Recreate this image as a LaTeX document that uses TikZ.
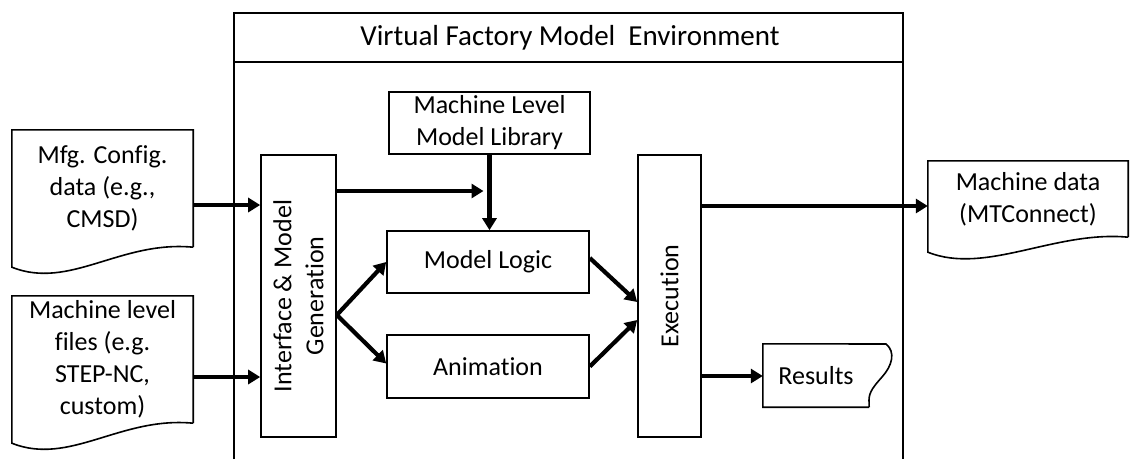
\documentclass[tikz,border=0pt]{standalone}
\usepackage{fontspec}
\setmainfont{Carlito}[Ligatures={NoCommon}]
\usetikzlibrary{arrows.meta,calc}
\newcommand{\bodyfont}{\fontsize{26pt}{32pt}\selectfont}
\newcommand{\titlefont}{\fontsize{29pt}{34pt}\selectfont}
\tikzset{
  frame/.style={draw=black, line width=1.6pt},
  box/.style={draw=black, line width=1.6pt, inner sep=0pt, align=center, font=\bodyfont},
  doctext/.style={inner sep=0pt, align=center, font=\bodyfont},
  arr/.style={line width=4.2pt, -{Triangle[length=12pt,width=14pt]}},
}
\newcommand{\docpath}[2]{%
  \draw[frame, line join=miter] (#1.south east) -- (#1.north east) -- (#1.north west) -- ([yshift=-#2pt]#1.south west)
    .. controls +(58,23) and +(-73,-7) .. (#1.south east);}
\begin{document}
\begin{tikzpicture}[x=1pt,y=-1pt]
\useasboundingbox (0,0) rectangle (1131,459);
% environment frame
\draw[frame] (234,459) -- (234,13) -- (903,13) -- (903,459);
\draw[frame] (234,62) -- (903,62);
\node[font=\titlefont, inner sep=0pt] (title) at (570,38) {Virtual Factory Model\ \ Environment};
% inner boxes
\node[box, minimum width=201pt, minimum height=62pt] (lib) at (489.5,123) {Machine Level\\Model Library};
\node[box, minimum width=75pt, minimum height=282pt] (iface) at (298.5,296) {};
\node[font=\bodyfont, align=center, rotate=90, inner sep=0pt] (ifacetxt) at (iface.center) {Interface \& Model\\Generation};
\node[box, minimum width=202pt, minimum height=62pt] (logic) at (488,262) {Model Logic};
\node[box, minimum width=202pt, minimum height=63pt] (anim) at (488,366.5) {Animation};
\node[box, minimum width=63pt, minimum height=282pt] (exec) at (669.5,296) {};
\node[font=\bodyfont, rotate=90, inner sep=0pt] (exectxt) at (exec.center) {Execution};
% documents
\node[doctext, minimum width=181pt, minimum height=117pt] (mfg) at (102.5,188.5) {Mfg. Config.\\data (e.g.,\\CMSD)};
\docpath{mfg}{20}
\node[doctext, minimum width=181pt, minimum height=127pt] (files) at (102.5,359.5) {Machine level\\files (e.g.\\STEP-NC,\\custom)};
\docpath{files}{20}
\node[doctext, minimum width=200pt, minimum height=76pt] (mdata) at (1028,199) {Machine data\\(MTConnect)};
\docpath{mdata}{15}
\node[doctext, minimum width=106pt, minimum height=63pt, text width=100pt] (results) at (816,375.5) {Results};
\draw[frame, line join=miter] (results.south east) -- (results.south west) -- (results.north west) -- (886,344)
  .. controls (896,352) and (892,366) .. (882,377)
  .. controls (874,386) and (869,392) .. (869,400) -- (results.south east);
% connectors
\coordinate (m1) at ([yshift=-16.5pt]mfg.east);
\draw[arr] (m1) -- (m1 -| iface.west);
\coordinate (f1) at ([yshift=-17.5pt]files.east);
\draw[arr] (f1) -- (f1 -| iface.west);
\coordinate (i1) at ([yshift=105pt]iface.east);
\draw[arr, shorten >=6pt] (i1) -- (i1 -| lib.south);
\draw[arr] (lib.south) -- (lib.south |- logic.north);
\coordinate (i2) at ([yshift=-19pt]iface.east);
\draw[arr] (i2) -- (logic.west);
\draw[arr] (i2) -- ([yshift=3pt]anim.west);
\draw[arr] ([yshift=4pt]logic.east) -- ([yshift=-6pt]exec.west);
\draw[arr] (anim.east) -- ([yshift=-24pt]exec.west);
\coordinate (e1) at ([yshift=90pt]exec.east);
\draw[arr] (e1) -- (e1 -| mdata.west);
\coordinate (e2) at ([yshift=-80pt]exec.east);
\draw[arr] (e2) -- (e2 -| results.west);
\end{tikzpicture}
\end{document}
